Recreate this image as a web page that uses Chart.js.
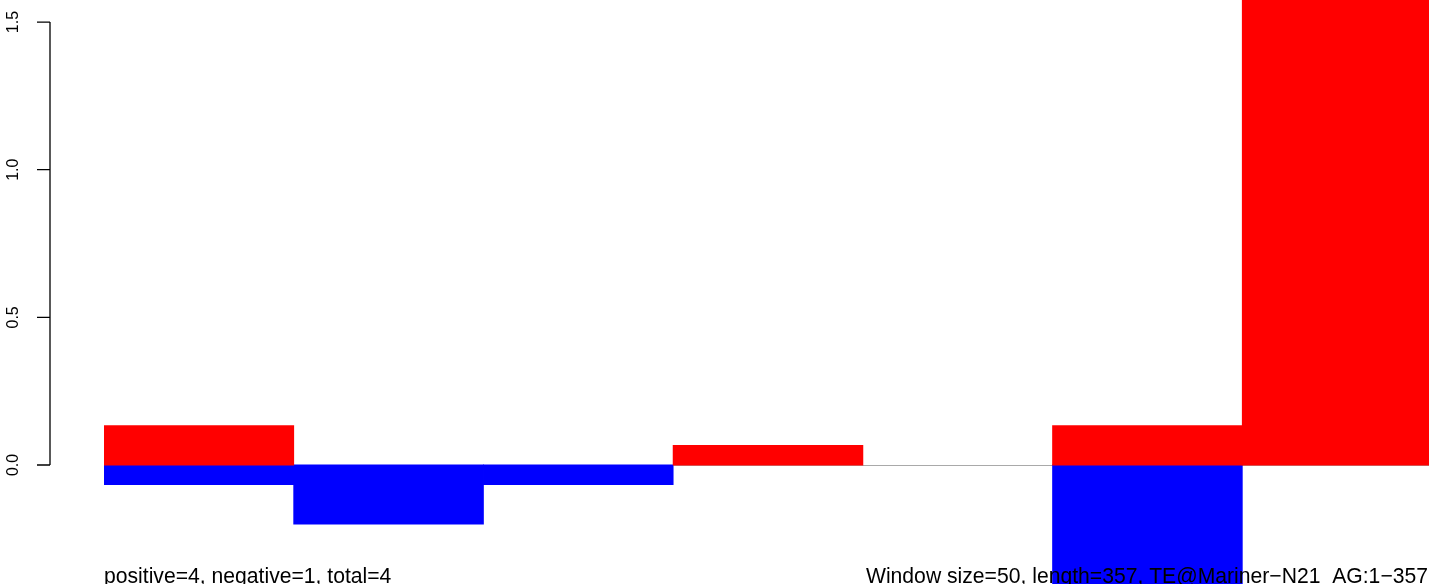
<!DOCTYPE html>
<html>
<head>
<meta charset="utf-8">
<script src="https://cdn.jsdelivr.net/npm/chart.js@4/dist/chart.umd.min.js"></script>
<style>
  html, body { margin: 0; padding: 0; background: #fff; overflow: hidden; }
  /* the R plot region runs a few pixels past the right edge of the picture */
  #wrap { width: 1432px; height: 584px; position: relative; }
</style>
</head>
<body>
<div id="wrap"><canvas id="chart-windows"></canvas></div>
<script>
// windows along the TE consensus (size 50, length 357)
const categories   = ['1-50', '51-100', '101-150', '151-200', '201-250', '251-300', '301-357'];
const positiveVals = [0.1333, 0, 0, 0.0667, 0, 0.1333, 1.8];
const negativeVals = [-0.0667, -0.2, -0.0667, 0, 0, -0.55, 0];
const yTicks       = [0, 0.5, 1, 1.5];

const leftNote  = 'positive=4, negative=1, total=4';
const rightNote = 'Window size=50, length=357, TE@Mariner\u2212N21_AG:1\u2212357';

const FONT = "'Liberation Sans', Arial, Helvetica, sans-serif";
const AXIS_X = 50;

// R style: short axis 0..1.5 with rotated labels, grey zero line, notes at the bottom
const rStyle = {
  id: 'rStyle',
  beforeDatasetsDraw(chart) {
    const { ctx, chartArea, scales: { y } } = chart;
    const y0 = Math.round(y.getPixelForValue(0)) + 0.5;
    ctx.save();
    ctx.strokeStyle = '#a9a9a9';
    ctx.lineWidth = 1;
    ctx.beginPath();
    ctx.moveTo(chartArea.left, y0);
    ctx.lineTo(chart.width, y0);
    ctx.stroke();
    ctx.restore();
  },
  afterDatasetsDraw(chart) {
    const { ctx, scales: { y } } = chart;
    const top = y.getPixelForValue(yTicks[yTicks.length - 1]);
    const bot = y.getPixelForValue(yTicks[0]);
    ctx.save();
    ctx.strokeStyle = '#000';
    ctx.lineWidth = 1.3;
    ctx.beginPath();
    ctx.moveTo(AXIS_X, top);
    ctx.lineTo(AXIS_X, bot);
    yTicks.forEach(v => {
      const py = y.getPixelForValue(v);
      ctx.moveTo(AXIS_X - 13, py);
      ctx.lineTo(AXIS_X, py);
    });
    ctx.stroke();

    ctx.fillStyle = '#000';
    ctx.font = '16px ' + FONT;
    ctx.textAlign = 'center';
    ctx.textBaseline = 'alphabetic';
    yTicks.forEach(v => {
      const py = y.getPixelForValue(v);
      ctx.save();
      ctx.translate(17.5, py);
      ctx.rotate(-Math.PI / 2);
      ctx.fillText(v.toFixed(1), 0, 0);
      ctx.restore();
    });

    ctx.font = '21.15px ' + FONT;
    ctx.textAlign = 'left';
    ctx.fillText(leftNote, chart.chartArea.left, 583);
    ctx.textAlign = 'right';
    ctx.fillText(rightNote, 1428, 583);
    ctx.restore();
  },
};

// no seams between touching bars, but keep empty windows flat
const inflate = c => (c.raw ? 0.4 : 0);

const ctx = document.getElementById('chart-windows').getContext('2d');
new Chart(ctx, {
  type: 'bar',
  data: {
    labels: categories,
    datasets: [
      { data: positiveVals, backgroundColor: '#ff0000', borderWidth: 0, inflateAmount: inflate,
        barPercentage: 1, categoryPercentage: 1 },
      { data: negativeVals, backgroundColor: '#0000ff', borderWidth: 0, inflateAmount: inflate,
        barPercentage: 1, categoryPercentage: 1 },
    ],
  },
  options: {
    responsive: true,
    maintainAspectRatio: false,
    animation: false,
    layout: { padding: { left: 104, right: 0, top: 0, bottom: 0 } },
    plugins: {
      legend: { display: false },
      tooltip: { enabled: false },
    },
    scales: {
      x: { stacked: true, display: false, offset: true },
      y: {
        stacked: true,
        display: false,
        min: -0.403,
        max: 1.5747,
        afterBuildTicks: s => { s.ticks = yTicks.map(v => ({ value: v })); },
      },
    },
  },
  plugins: [rStyle],
});
</script>
</body>
</html>
